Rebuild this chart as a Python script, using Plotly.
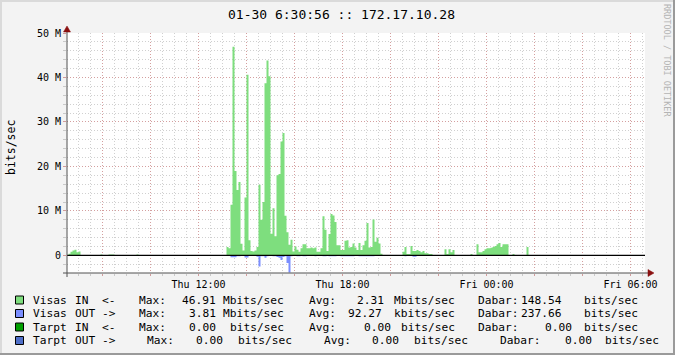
import plotly.graph_objects as go
import pandas as pd

# ---------------- data (Mbit/s, 5-minute samples) ----------------
STEP = "5min"
series_start = "2015-01-29 06:30"
series_end = "2015-01-30 06:35"

# Visas IN, segments of consecutive samples (start time -> values)
in_0635 = [0.4, 0.8, 1.1, 1.3, 0.7, 0.9]
in_0755 = [0.2]
in_0815 = [0.2, 0.2, 0.2]
in_0925 = [0.2]
in_1310 = [1.9, 1.6, 11.4, 46.91, 19.0, 14.7, 16.5, 2.6, 1.1, 13.0,
           40.6, 3.4, 1.0, 0.9, 1.1, 1.9, 15.9, 8.0, 12.0, 38.7,
           43.8, 40.3, 4.9, 10.6, 4.3, 18.0, 18.3, 25.6, 27.5, 8.9,
           5.2, 2.4, 3.5, 0.9, 2.0, 1.3, 0.8, 1.6, 2.5, 2.5,
           1.6, 1.6, 1.8, 1.6, 1.8, 0.8, 0.8, 1.6, 8.8, 5.8,
           1.0, 4.8, 9.3, 9.0, 7.5, 2.3, 2.3, 1.2, 1.2, 3.3,
           3.4, 1.8, 1.9, 2.7, 1.8, 1.2, 2.8, 1.2, 2.3, 3.3,
           7.3, 1.8, 1.9, 8.1, 3.1, 4.0, 2.7, 0.4]
in_2030 = [0.8, 1.9, 0.3, 0.3, 2.1, 1.0, 1.0, 1.2, 1.0, 0.7, 1.0, 0.5, 0.5, 0.3, 0.3]
in_2215 = [1.4, 0.3, 1.4, 0.7, 1.2]
in_2320 = [0.3]
in_2335 = [2.5, 0.7, 0.7, 1.0, 1.4, 1.6, 1.6, 1.7, 1.9, 2.1, 2.5, 2.8, 1.9, 2.5, 2.5, 2.5]
in_0105 = [0.3]
in_0140 = [1.9]

# Visas OUT (positive values, drawn downwards)
out_1310 = [0, 0, 0.4, 0.4, 0.4, 0.2, 0.2, 0, 0, 0.45,
            0.45, 0, 0, 0, 0, 0.3, 2.5, 0.2, 0.2, 0.5,
            0.2, 0, 0, 0.2, 0.2, 0.35, 0.5, 1.0, 0.35, 0.2,
            1.7, 3.81, 0.2, 0, 0, 0.2, 0.2, 0, 0.2, 0.2,
            0, 0, 0, 0, 0.2, 0, 0, 0, 0.2, 0.2,
            0, 0.2, 0.2, 0.2, 0.2, 0, 0, 0.2, 0.2, 0.2,
            0.2, 0.2, 0.2, 0.2, 0, 0, 0.2, 0.2, 0.2, 0.2,
            0.2, 0.2, 0.2, 0.2, 0, 0, 0, 0]
out_2030 = [0, 0.2, 0, 0, 0, 0.3, 0.3]

in_segments = {
    "2015-01-29 06:35": in_0635, "2015-01-29 07:55": in_0755,
    "2015-01-29 08:15": in_0815, "2015-01-29 09:25": in_0925,
    "2015-01-29 13:10": in_1310, "2015-01-29 20:30": in_2030,
    "2015-01-29 22:15": in_2215, "2015-01-29 23:20": in_2320,
    "2015-01-29 23:35": in_2335, "2015-01-30 01:05": in_0105,
    "2015-01-30 01:40": in_0140,
}
out_segments = {"2015-01-29 13:10": out_1310, "2015-01-29 20:30": out_2030}

y_tick_vals = [0, 10, 20, 30, 40, 50]
y_tick_text = ["0", "10 M", "20 M", "30 M", "40 M", "50 M"]
x_label_times = ["2015-01-29 12:00", "2015-01-29 18:00", "2015-01-30 00:00", "2015-01-30 06:00"]
x_label_text = ["Thu 12:00", "Thu 18:00", "Fri 00:00", "Fri 06:00"]

legend_rows = [
    ["Visas", "IN", "<-", "Max:", "46.91", "Mbits/sec", "Avg:", "2.31", "Mbits/sec", "Dabar:", "148.54", "bits/sec"],
    ["Visas", "OUT", "->", "Max:", "3.81", "Mbits/sec", "Avg:", "92.27", "kbits/sec", "Dabar:", "237.66", "bits/sec"],
    ["Tarpt", "IN", "<-", "Max:", "0.00", "bits/sec", "Avg:", "0.00", "bits/sec", "Dabar:", "0.00", "bits/sec"],
    ["Tarpt", "OUT", "->", "Max:", "0.00", "bits/sec", "Avg:", "0.00", "bits/sec", "Dabar:", "0.00", "bits/sec"],
]

# ---------------- styling / layout ----------------
C_IN = "#7EDE7E"
C_OUT = "#7B8EFF"
C_TIN = "#00A000"
C_TOUT = "#4F6FC8"
swatch_colors = [C_IN, C_OUT, C_TIN, C_TOUT]
MONO = "DejaVu Sans Mono"

W, H = 675, 355
PL, PR, PT, PB = 67, 645, 33, 273   # plot area in pixels


def px(x):
    return (x - PL) / (PR - PL)


def py(y):
    return (PB - y) / (PB - PT)


idx = pd.date_range(series_start, series_end, freq=STEP)


def build(segments, sign=1.0):
    s = pd.Series(0.0, index=idx)
    for start, vals in segments.items():
        r = pd.date_range(start, periods=len(vals), freq=STEP)
        s.loc[r] = [sign * v for v in vals]
    return s


s_in = build(in_segments)
s_out = build(out_segments, -1.0)

fig = go.Figure()
fig.add_trace(go.Scatter(x=idx, y=s_in.values, mode="lines", line=dict(width=0, shape="hv"),
                         fill="tozeroy", fillcolor=C_IN, hoverinfo="skip", showlegend=False))
fig.add_trace(go.Scatter(x=idx, y=s_out.values, mode="lines", line=dict(width=0, shape="hv"),
                         fill="tozeroy", fillcolor=C_OUT, hoverinfo="skip", showlegend=False))

major_x = pd.date_range("2015-01-29 08:00", "2015-01-30 06:00", freq="2h")
major_x_text = []
for t in major_x:
    k = t.strftime("%Y-%m-%d %H:%M")
    major_x_text.append(x_label_text[x_label_times.index(k)] if k in x_label_times else "")

MGRID = "rgba(215,110,110,0.5)"
GRID = "rgba(150,150,150,0.45)"
DASH = "1px,2px"

fig.update_layout(
    width=W, height=H, autosize=False,
    margin=dict(l=PL, r=W - PR, t=PT, b=H - PB),
    paper_bgcolor="#F3F3F3", plot_bgcolor="#FFFFFF",
    showlegend=False,
    font=dict(family=MONO, color="#000000"),
    xaxis=dict(
        type="date", range=["2015-01-29 06:31:15", "2015-01-30 06:36:15"],
        tickvals=list(major_x), ticktext=major_x_text,
        showgrid=True, gridcolor=MGRID, griddash=DASH, gridwidth=1,
        ticks="outside", ticklen=2, tickcolor=MGRID,
        minor=dict(dtick=1800000, tick0="2015-01-29 00:00", showgrid=True, gridcolor=GRID,
                   griddash=DASH, ticks="outside", ticklen=2, tickcolor=GRID),
        tickfont=dict(family=MONO, size=10), zeroline=False, showline=False,
        fixedrange=True,
    ),
    yaxis=dict(
        range=[-3.95, 50], tickvals=y_tick_vals, ticktext=y_tick_text,
        showgrid=True, gridcolor=MGRID, griddash=DASH,
        ticks="outside", ticklen=3, tickcolor=MGRID,
        minor=dict(dtick=2, tick0=0, showgrid=True, gridcolor=GRID, griddash=DASH,
                   ticks="outside", ticklen=3, tickcolor=GRID),
        tickfont=dict(family=MONO, size=10), zeroline=False, showline=False,
        fixedrange=True,
    ),
)

shapes = []
# zero rule
shapes.append(dict(type="line", xref="paper", yref="y", x0=0, x1=1, y0=0, y1=0,
                   line=dict(color="#000000", width=1.2), layer="above"))
AX = "#505050"
# axes
shapes.append(dict(type="line", xref="paper", yref="paper", x0=px(63), x1=px(649), y0=0, y1=0,
                   line=dict(color=AX, width=1), layer="above"))
shapes.append(dict(type="line", xref="paper", yref="paper", x0=0, x1=0, y0=py(277), y1=py(29),
                   line=dict(color=AX, width=1), layer="above"))
ARROW = "#8A1010"


def tri(points):
    p = " L ".join(f"{px(a):.5f},{py(b):.5f}" for a, b in points)
    return "M " + p + " Z"


shapes.append(dict(type="path", xref="paper", yref="paper",
                   path=tri([(648, PB - 3.5), (654, PB), (648, PB + 3.5)]),
                   fillcolor=ARROW, line=dict(color=ARROW, width=0.5), layer="above"))
shapes.append(dict(type="path", xref="paper", yref="paper",
                   path=tri([(PL - 3.5, 32), (PL, 26), (PL + 3.5, 32)]),
                   fillcolor=ARROW, line=dict(color=ARROW, width=0.5), layer="above"))
# image frame (shade)
shapes.append(dict(type="rect", xref="paper", yref="paper", x0=px(0), x1=px(2), y0=py(H), y1=py(0),
                   fillcolor="#DADADA", line=dict(width=0), layer="below"))
shapes.append(dict(type="rect", xref="paper", yref="paper", x0=px(0), x1=px(W), y0=py(2), y1=py(0),
                   fillcolor="#DADADA", line=dict(width=0), layer="below"))
shapes.append(dict(type="rect", xref="paper", yref="paper", x0=px(W - 2), x1=px(W), y0=py(H), y1=py(0),
                   fillcolor="#9A9A9A", line=dict(width=0), layer="below"))
shapes.append(dict(type="rect", xref="paper", yref="paper", x0=px(0), x1=px(W), y0=py(H), y1=py(H - 2),
                   fillcolor="#9A9A9A", line=dict(width=0), layer="below"))

annotations = []
# title
annotations.append(dict(text="01-30 6:30:56 :: 172.17.10.28", xref="paper", yref="paper",
                        x=px(341), y=py(14), xanchor="center", yanchor="middle", showarrow=False,
                        font=dict(family=MONO, size=13, color="#000000")))
# y title
annotations.append(dict(text="bits/sec", xref="paper", yref="paper", x=px(11), y=py(148),
                        xanchor="center", yanchor="middle", textangle=-90, showarrow=False,
                        font=dict(family=MONO, size=11.5, color="#000000")))
# watermark
annotations.append(dict(text="RRDTOOL / TOBI OETIKER", xref="paper", yref="paper", x=px(667), y=py(60),
                        xanchor="center", yanchor="middle", textangle=90, showarrow=False,
                        font=dict(family=MONO, size=8.5, color="#B4B4B4")))

row_y = [300, 313.5, 327, 340.5]
col_x = [
    [31, 73, 100, 137, 180, 221, 307, 355, 392, 476, 519, 582],
    [31, 73, 100, 137, 187, 221, 307, 346, 392, 476, 519, 582],
    [31, 73, 100, 137, 187, 228, 307, 362, 399, 476, 543, 582],
    [31, 73, 100, 145, 194, 236, 322, 370, 412, 498, 563, 603],
]
for r, (tokens, yy) in enumerate(zip(legend_rows, row_y)):
    shapes.append(dict(type="rect", xref="paper", yref="paper",
                       x0=px(15.5), x1=px(23.5), y0=py(yy + 4), y1=py(yy - 4),
                       fillcolor=swatch_colors[r], line=dict(color="#000000", width=1), layer="above"))
    for tok, xx in zip(tokens, col_x[r]):
        annotations.append(dict(text=tok, xref="paper", yref="paper", x=px(xx - 0.5), y=py(yy),
                                xanchor="left", yanchor="middle", showarrow=False,
                                font=dict(family=MONO, size=11.2, color="#000000")))

fig.update_layout(shapes=shapes, annotations=annotations)
fig.write_html("out.html")
